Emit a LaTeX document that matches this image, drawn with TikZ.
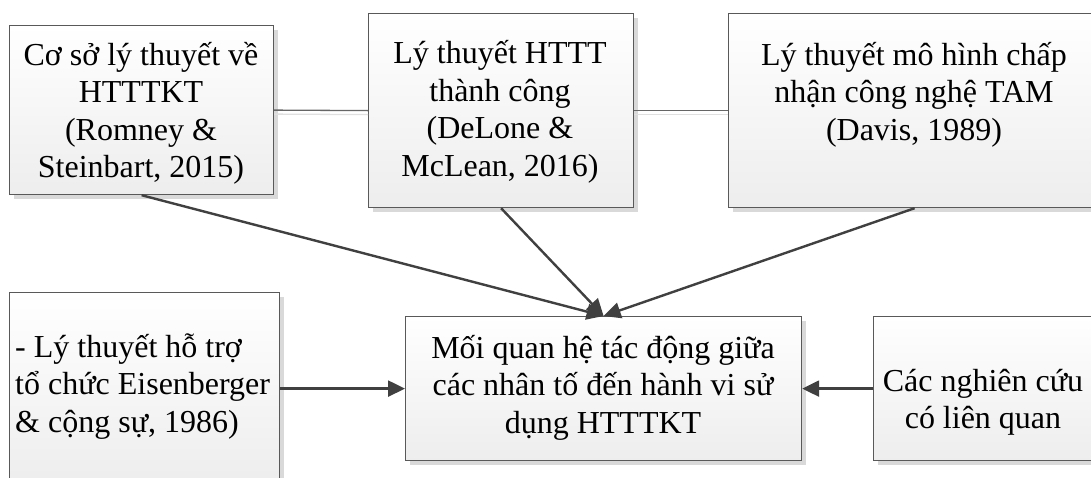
\documentclass[tikz,border=0pt]{standalone}
\usepackage{fontspec}
\setmainfont{Liberation Serif}
\usetikzlibrary{arrows.meta,shadows}
\begin{document}
\begin{tikzpicture}[x=1pt,y=-1pt,
  box/.style={draw=black!65, line width=1.2pt, top color=white, bottom color=black!7,
    anchor=north west, inner sep=0pt,
    drop shadow={shadow xshift=4pt, shadow yshift=-4pt, fill=black!15, opacity=1}},
  txt/.style={font=\fontsize{32}{37.5}\selectfont, align=center, anchor=base, inner sep=0pt},
  link/.style={draw=black!60, line width=1.3pt},
  linkshadow/.style={draw=black!12, line width=1.3pt, transform canvas={yshift=-4pt}},
  arr/.style={draw=black!75, line width=2.4pt, -{Triangle[length=17pt,width=16pt]}}
]
\useasboundingbox (0,0) rectangle (1091,477);
\clip (0,0) rectangle (1091,477);
\fill[white] (0,0) rectangle (1091,477);

% boxes
\node[box, minimum width=264pt, minimum height=169pt] (b1) at (9,25) {};
\node[box, minimum width=265pt, minimum height=194pt] (b2) at (368,13) {};
\node[box, minimum width=372pt, minimum height=194pt] (b3) at (728,13) {};
\node[box, minimum width=270pt, minimum height=192pt] (b4) at (9,292) {};
\node[box, minimum width=396pt, minimum height=144pt] (b5) at (405,316) {};
\node[box, minimum width=220pt, minimum height=144pt] (b6) at (873,316) {};

% texts (placed by the baseline of their last line)
\node[txt] (t1) at (141,177.5) {Cơ sở lý thuyết về\\HTTTKT\\(Romney \&\\Steinbart, 2015)};
\node[txt] (t2) at (500,176) {Lý thuyết HTTT\\thành công\\(DeLone \&\\McLean, 2016)};
\node[txt] (t3) at (914,140) {Lý thuyết mô hình chấp\\nhận công nghệ TAM\\(Davis, 1989)};
\node[txt, align=left, anchor=base west] (t4) at (15,432) {- Lý thuyết hỗ trợ\\tổ chức Eisenberger\\\& cộng sự, 1986)};
\node[txt] (t5) at (603,433) {Mối quan hệ tác động giữa\\các nhân tố đến hành vi sử\\dụng HTTTKT};
\node[txt] (t6) at (983,428.5) {Các nghiên cứu\\có liên quan};

% links between the theory boxes
\draw[linkshadow] (b1.east) -- (b2.west);
\draw[linkshadow] (b2.east) -- (b3.west);
\draw[link] (b1.east) -- (b2.west);
\draw[link] (b2.east) -- (b3.west);

% arrows into the central box
\draw[arr] (b1.south) -- (b5.north);
\draw[arr] (b2.south) -- (b5.north);
\draw[arr] (b3.south) -- (b5.north);
\draw[arr] (b4.east) -- (b5.west);
\draw[arr] (b6.west) -- (b5.east);
\end{tikzpicture}
\end{document}
